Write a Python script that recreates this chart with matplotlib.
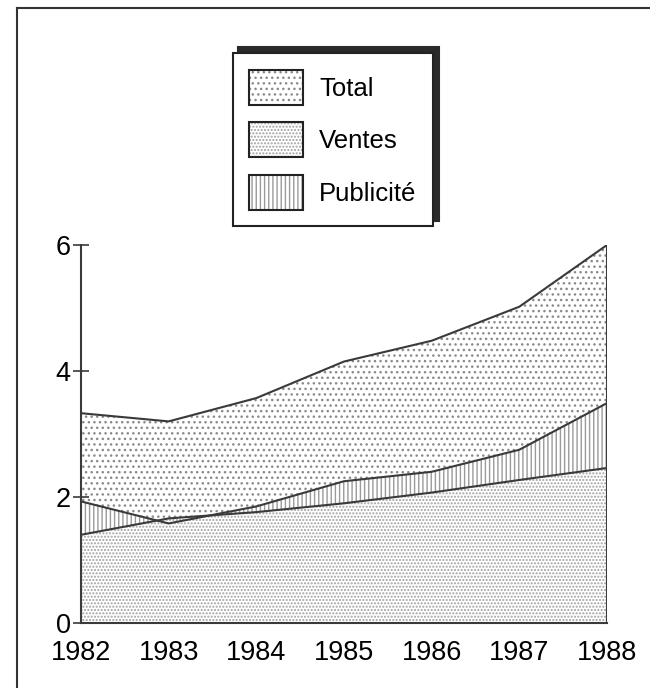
import matplotlib.pyplot as plt
from matplotlib.patches import Patch
from matplotlib.lines import Line2D

plt.rcParams['font.family'] = ['Liberation Sans', 'DejaVu Sans']
plt.rcParams['hatch.linewidth'] = 1.0

years = [1982, 1983, 1984, 1985, 1986, 1987, 1988]
total = [3.33, 3.20, 3.57, 4.15, 4.48, 5.02, 6.00]
publicite = [1.93, 1.58, 1.85, 2.25, 2.40, 2.75, 3.49]
ventes = [1.40, 1.66, 1.76, 1.90, 2.07, 2.27, 2.46]
labels = ['Total', 'Ventes', 'Publicité']

line_c = '#3a3a3a'
hatches = {'Total': '...', 'Ventes': '.....', 'Publicité': '||||'}
hatch_c = {'Total': '#8a8a8a', 'Ventes': '#a0a0a0', 'Publicité': '#9a9a9a'}

fig = plt.figure(figsize=(6.5, 6.88), dpi=100)
ax = fig.add_axes([0.1246, 0.0945, 0.8092, 0.5494])

# overlapping areas, drawn back to front
for name, vals in [('Total', total), ('Publicité', publicite), ('Ventes', ventes)]:
    ax.fill_between(years, 0, vals, facecolor='white', edgecolor=hatch_c[name],
                    hatch=hatches[name], linewidth=0)
for vals in [total, publicite, ventes]:
    ax.plot(years, vals, color=line_c, lw=1.5, solid_joinstyle='round')
ax.vlines(years[-1], 0, total[-1], color=line_c, lw=1.5)

ax.set_xlim(years[0], years[-1])
ax.set_ylim(0, 6)
ax.set_xticks(years)
ax.set_yticks([0, 2, 4, 6])
for s in ['top', 'right']:
    ax.spines[s].set_visible(False)
for s in ['left', 'bottom']:
    ax.spines[s].set_color(line_c)
    ax.spines[s].set_linewidth(1.5)
ax.tick_params(axis='y', direction='inout', length=11, width=1.2, color=line_c,
               labelsize=19.5, pad=2)
ax.tick_params(axis='x', length=0, labelsize=19.5, pad=12)

handles = []
for name in labels:
    handles.append((Patch(facecolor='white', edgecolor=hatch_c[name], hatch=hatches[name], lw=0),
                    Patch(facecolor='none', edgecolor='#222222', lw=1.5)))
leg = fig.legend(handles, labels, loc='upper left', bbox_to_anchor=(0.358, 0.923),
                 bbox_transform=fig.transFigure, borderaxespad=0, fontsize=18.5,
                 handlelength=2.1, handleheight=1.72, labelspacing=0.68,
                 handletextpad=0.62, borderpad=0.65, fancybox=False,
                 shadow={'ox': 4, 'oy': 4, 'color': '#2a2a2a', 'alpha': 1})
leg.get_frame().set_edgecolor('#222222')
leg.get_frame().set_linewidth(1.5)

# page frame of the scanned figure
fig.add_artist(Line2D([0.026, 0.026], [0.0, 0.988], color='#333333', lw=1.5))
fig.add_artist(Line2D([0.026, 1.0], [0.988, 0.988], color='#333333', lw=1.5))

fig.savefig('out.png', dpi=100)
